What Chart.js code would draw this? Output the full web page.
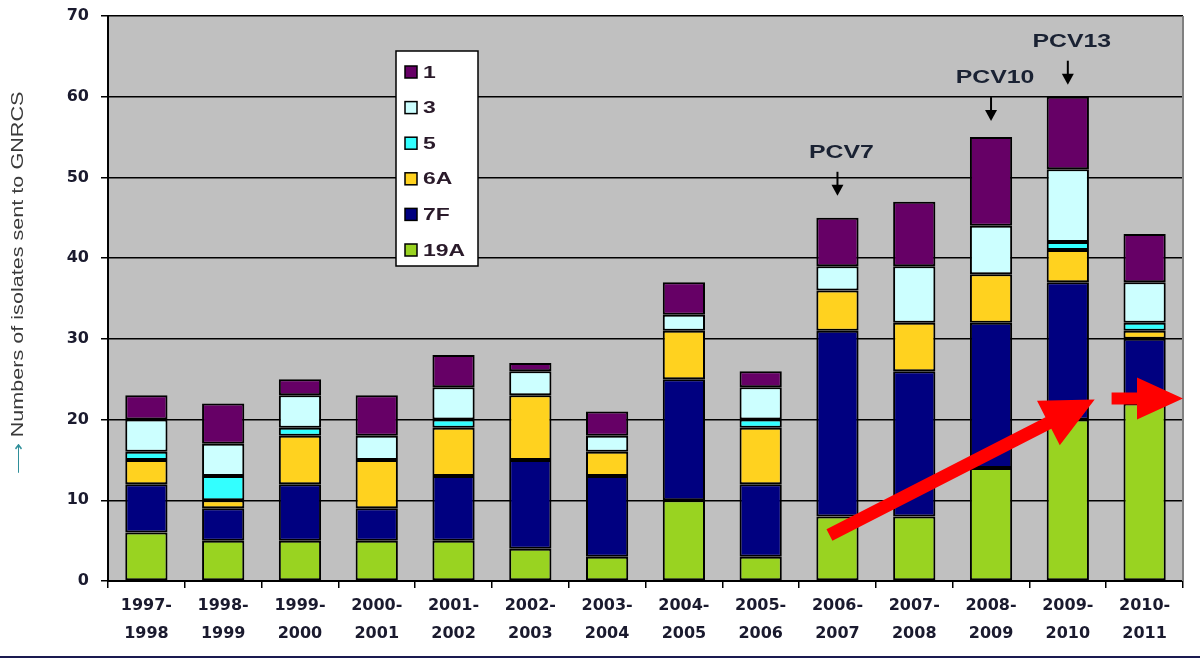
<!DOCTYPE html>
<html>
<head>
<meta charset="utf-8">
<script src="https://cdn.jsdelivr.net/npm/chart.js@4"></script>
<style>
  html, body { margin: 0; padding: 0; background: #ffffff; }
  #wrap { width: 1200px; height: 666px; }
</style>
</head>
<body>
<div id="wrap"><canvas id="chart" width="1200" height="666"></canvas></div>
<script>
// ==========================================
// Data
// ==========================================
const seasons = [
    ["1997-", "1998"], ["1998-", "1999"], ["1999-", "2000"], ["2000-", "2001"],
    ["2001-", "2002"], ["2002-", "2003"], ["2003-", "2004"], ["2004-", "2005"],
    ["2005-", "2006"], ["2006-", "2007"], ["2007-", "2008"], ["2008-", "2009"],
    ["2009-", "2010"], ["2010-", "2011"]
];

const serotypes = ["19A", "7F", "6A", "5", "3", "1"];

const s19A = [6, 5, 5, 5, 5, 4, 3, 10, 3, 8, 8, 14, 20, 22];
const s7F  = [6, 4, 7, 4, 8, 11, 10, 15, 9, 23, 18, 18, 17, 8];
const s6A  = [3, 1, 6, 6, 6, 8, 3, 6, 7, 5, 6, 6, 4, 1];
const s5   = [1, 3, 1, 0, 1, 0, 0, 0, 1, 0, 0, 0, 1, 1];
const s3   = [4, 4, 4, 3, 4, 3, 2, 2, 4, 3, 7, 6, 9, 5];
const s1   = [3, 5, 2, 5, 4, 1, 3, 4, 2, 6, 8, 11, 9, 6];

const seriesValues = [s19A, s7F, s6A, s5, s3, s1];
const seriesColors = ["#99d321", "#000080", "#ffd21f", "#33ffff", "#ccffff", "#660066"];

// vaccine introductions: label and season index
const vaccineLabels = ["PCV7", "PCV10", "PCV13"];
const vaccineSeason = [9, 11, 12];

const yTicks = [0, 10, 20, 30, 40, 50, 60, 70];

// ==========================================
// Drawing helpers
// ==========================================
const FONT = "'Liberation Sans', Arial, sans-serif";
const WIDE = "'DejaVu Sans', 'Liberation Sans', sans-serif";

function totalAt(i) {
    return seriesValues.reduce((sum, s) => sum + s[i], 0);
}

// text stretched sideways, like the original picture
function wideText(ctx, txt, x, y, align, stretch) {
    const w = ctx.measureText(txt).width * stretch;
    let sx = x;
    if (align === "center") sx = x - w / 2;
    ctx.save();
    ctx.textAlign = "left";
    ctx.translate(sx, y);
    ctx.scale(stretch, 1);
    ctx.fillText(txt, 0, 0);
    ctx.restore();
    return w;
}

function downArrow(ctx, x, y1, y2) {
    ctx.save();
    ctx.strokeStyle = "#000";
    ctx.fillStyle = "#000";
    ctx.lineWidth = 2;
    ctx.beginPath();
    ctx.moveTo(x, y1);
    ctx.lineTo(x, y2 - 8);
    ctx.stroke();
    ctx.beginPath();
    ctx.moveTo(x - 6, y2 - 11);
    ctx.lineTo(x + 6, y2 - 11);
    ctx.lineTo(x, y2);
    ctx.closePath();
    ctx.fill();
    ctx.restore();
}

function fatArrow(ctx, x1, y1, x2, y2, shaft, headLen, headWidth) {
    const ang = Math.atan2(y2 - y1, x2 - x1);
    const len = Math.hypot(x2 - x1, y2 - y1);
    ctx.save();
    ctx.translate(x1, y1);
    ctx.rotate(ang);
    ctx.fillStyle = "#ff0000";
    ctx.beginPath();
    ctx.moveTo(0, -shaft / 2);
    ctx.lineTo(len - headLen, -shaft / 2);
    ctx.lineTo(len - headLen, -headWidth / 2);
    ctx.lineTo(len, 0);
    ctx.lineTo(len - headLen, headWidth / 2);
    ctx.lineTo(len - headLen, shaft / 2);
    ctx.lineTo(0, shaft / 2);
    ctx.closePath();
    ctx.fill();
    ctx.restore();
}

const plotBackground = {
    id: "plotBackground",
    beforeDraw(chart) {
        const { ctx, chartArea: a } = chart;
        ctx.save();
        ctx.fillStyle = "#c0c0c0";
        ctx.fillRect(a.left, a.top, a.right - a.left, a.bottom - a.top);
        ctx.restore();
    }
};

const decorations = {
    id: "decorations",
    afterDraw(chart) {
        const { ctx, chartArea: a } = chart;
        const xs = chart.scales.x;
        const ys = chart.scales.y;

        // right border of plot
        ctx.save();
        ctx.strokeStyle = "#808080";
        ctx.lineWidth = 2;
        ctx.beginPath();
        ctx.moveTo(a.right, a.top);
        ctx.lineTo(a.right, a.bottom);
        ctx.stroke();
        ctx.restore();

        // legend box
        const lx = 396, ly = 51, lw = 82, lh = 215;
        ctx.save();
        ctx.fillStyle = "#ffffff";
        ctx.fillRect(lx, ly, lw, lh);
        ctx.strokeStyle = "#000";
        ctx.lineWidth = 1.5;
        ctx.strokeRect(lx, ly, lw, lh);
        const ds = chart.data.datasets.slice().reverse();
        ctx.font = "bold 17px " + FONT;
        ctx.textBaseline = "middle";
        ds.forEach((d, k) => {
            const cy = ly + 21 + k * 35.6;
            ctx.fillStyle = d.backgroundColor;
            ctx.fillRect(lx + 9, cy - 6, 12, 12);
            ctx.strokeStyle = "#000";
            ctx.lineWidth = 1.5;
            ctx.strokeRect(lx + 9, cy - 6, 12, 12);
            ctx.fillStyle = "#2a1a2a";
            wideText(ctx, d.label, lx + 27, cy + 1, "left", 1.35);
        });
        ctx.restore();

        // vaccine annotations
        const textGap = [65, 59, 55];
        ctx.save();
        ctx.font = "bold 18px " + FONT;
        ctx.textBaseline = "middle";
        vaccineSeason.forEach((i, k) => {
            const x = xs.getPixelForValue(i);
            const ty = ys.getPixelForValue(totalAt(i)) - textGap[k];
            ctx.fillStyle = "#1a2233";
            wideText(ctx, vaccineLabels[k], x + 4, ty, "center", 1.38);
            downArrow(ctx, x, ty + 19, ty + 43);
        });
        ctx.restore();

        // red trend arrows
        const step = xs.getPixelForValue(1) - xs.getPixelForValue(0);
        fatArrow(ctx,
            xs.getPixelForValue(9) - 8, ys.getPixelForValue(5.7),
            xs.getPixelForValue(12) + 0.35 * step, ys.getPixelForValue(22.5),
            13, 52, 50);
        fatArrow(ctx,
            xs.getPixelForValue(13) - 0.43 * step, ys.getPixelForValue(22.6),
            a.right, ys.getPixelForValue(22.6),
            12, 46, 42);

        // y axis title
        ctx.save();
        ctx.translate(19, 283);
        ctx.rotate(-Math.PI / 2);
        ctx.font = "16px " + FONT;
        ctx.textBaseline = "middle";
        const arrowTxt = "\u27F6 ";
        const mainTxt = "Numbers of isolates sent to GNRCS";
        const stretch = 1.35;
        const w1 = ctx.measureText(arrowTxt).width * stretch;
        const w2 = ctx.measureText(mainTxt).width * stretch;
        const sx = -(w1 + w2) / 2;
        ctx.fillStyle = "#2f8f9a";
        wideText(ctx, arrowTxt, sx, 0, "left", stretch);
        ctx.fillStyle = "#3a3a3a";
        wideText(ctx, mainTxt, sx + w1, 0, "left", stretch);
        ctx.restore();

        // bottom rule
        ctx.save();
        ctx.strokeStyle = "#1a1a50";
        ctx.lineWidth = 2;
        ctx.beginPath();
        ctx.moveTo(0, 657);
        ctx.lineTo(1200, 657);
        ctx.stroke();
        ctx.restore();
    }
};

// ==========================================
// Chart
// ==========================================
const ctx = document.getElementById("chart").getContext("2d");

new Chart(ctx, {
    type: "bar",
    data: {
        labels: seasons,
        datasets: serotypes.map((name, k) => ({
            label: name,
            data: seriesValues[k],
            backgroundColor: seriesColors[k],
            borderColor: "#000000",
            borderWidth: 2,
            borderSkipped: false,
            barPercentage: 0.55,
            categoryPercentage: 1.0
        }))
    },
    options: {
        responsive: false,
        animation: false,
        layout: { padding: { top: 16, right: 17, bottom: 0, left: 0 } },
        plugins: {
            legend: { display: false },
            tooltip: { enabled: false }
        },
        scales: {
            x: {
                stacked: true,
                grid: {
                    drawOnChartArea: false,
                    drawTicks: true,
                    tickLength: 7,
                    color: "#000",
                    lineWidth: 1.5,
                    offset: true
                },
                border: { color: "#000", width: 2 },
                ticks: {
                    color: "#1a1a2e",
                    font: { family: WIDE, size: 16, weight: "bold", lineHeight: 1.75 },
                    padding: 4,
                    maxRotation: 0,
                    autoSkip: false
                },
                afterFit(scale) {
                    scale.height = 85;
                    scale.paddingLeft = 0;
                    scale.paddingRight = 0;
                }
            },
            y: {
                stacked: true,
                min: yTicks[0],
                max: yTicks[yTicks.length - 1],
                afterBuildTicks(scale) { scale.ticks = yTicks.map(v => ({ value: v })); },
                grid: {
                    color: "#000",
                    lineWidth: 1.5,
                    tickLength: 7
                },
                border: { color: "#000", width: 2 },
                ticks: {
                    color: "#1a1a2e",
                    font: { family: WIDE, size: 16, weight: "bold" },
                    padding: 12
                },
                afterFit(scale) {
                    scale.width = 108;
                    scale.paddingTop = 0;
                    scale.paddingBottom = 0;
                }
            }
        }
    },
    plugins: [plotBackground, decorations]
});
</script>
</body>
</html>
